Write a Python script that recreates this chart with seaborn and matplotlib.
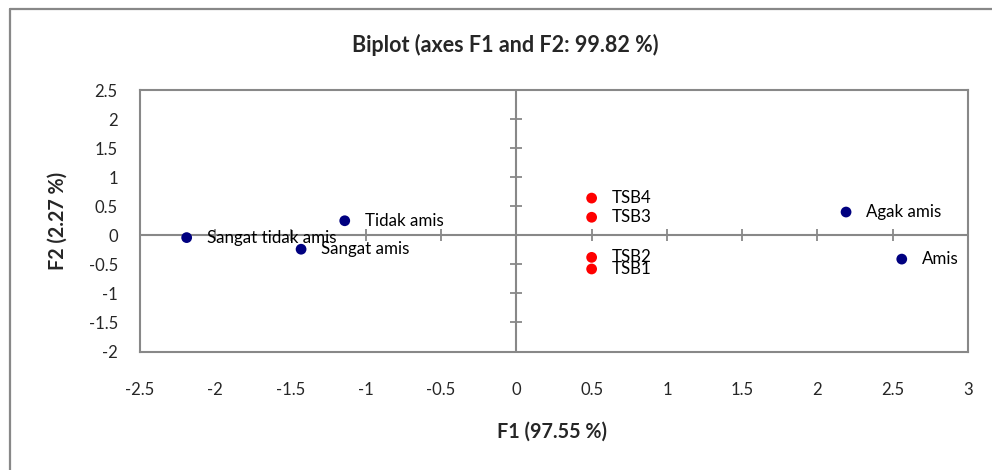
import matplotlib
matplotlib.use("Agg")
import matplotlib.pyplot as plt
from matplotlib.lines import Line2D
import seaborn as sns
import pandas as pd

# ---- data ----
var_labels = ["Sangat tidak amis", "Tidak amis", "Agak amis", "Amis", "Sangat amis"]
var_f1 = [-2.19, -1.14, 2.19, 2.56, -1.43]
var_f2 = [-0.04, 0.25, 0.40, -0.41, -0.24]

obs_labels = ["TSB1", "TSB2", "TSB3", "TSB4"]
obs_f1 = [0.50, 0.50, 0.50, 0.50]
obs_f2 = [-0.58, -0.38, 0.31, 0.64]

x_ticks = [-2.5, -2, -1.5, -1, -0.5, 0, 0.5, 1, 1.5, 2, 2.5, 3]
y_ticks = [-2, -1.5, -1, -0.5, 0, 0.5, 1, 1.5, 2, 2.5]

title = "Biplot (axes F1 and F2: 99.82 %)"
x_label = "F1 (97.55 %)"
y_label = "F2 (2.27 %)"

df = pd.DataFrame({
    "label": var_labels + obs_labels,
    "F1": var_f1 + obs_f1,
    "F2": var_f2 + obs_f2,
    "kind": ["var"] * len(var_labels) + ["obs"] * len(obs_labels),
})

sns.set_theme(style="white")
plt.rcParams["font.family"] = ["Lato", "DejaVu Sans"]

W, H = 992, 470
fig = plt.figure(figsize=(W / 100, H / 100), dpi=100)
ax = fig.add_axes([140 / W, 1 - 351.5 / H, (968 - 140) / W, (351.5 - 90) / H])

grey = "#888888"

sns.scatterplot(data=df, x="F1", y="F2", hue="kind",
                palette={"var": "#000080", "obs": "#ff0000"},
                s=60, edgecolor="none", legend=False, zorder=4, ax=ax)

for _, r in df.iterrows():
    ax.annotate(r["label"], (r["F1"], r["F2"]), xytext=(14.5, 0),
                textcoords="offset points", ha="left", va="center",
                fontsize=12.2, color="black", zorder=5)

ax.set_xlim(x_ticks[0], x_ticks[-1])
ax.set_ylim(y_ticks[0], y_ticks[-1])
ax.set_xticks(x_ticks)
ax.set_yticks(y_ticks)
ax.set_xticklabels([f"{t:g}" for t in x_ticks])
ax.set_yticklabels([f"{t:g}" for t in y_ticks])
ax.tick_params(axis="x", length=0, pad=22, labelsize=12)
ax.tick_params(axis="y", length=0, pad=16, labelsize=12)
ax.set_xlabel("")
ax.set_ylabel("")

for sp in ax.spines.values():
    sp.set_visible(True)
    sp.set_color(grey)
    sp.set_linewidth(1.5)

# zero axes with crossing tick marks
ax.axhline(0, color=grey, lw=1.5, zorder=2)
ax.axvline(0, color=grey, lw=1.5, zorder=2)
ax.plot(x_ticks, [0] * len(x_ticks), ls="none", marker="|", ms=8.5,
        mew=1.3, color=grey, zorder=2, clip_on=False)
ax.plot([0] * len(y_ticks), y_ticks, ls="none", marker="_", ms=8.5,
        mew=1.3, color=grey, zorder=2, clip_on=False)

# titles
fig.text(505 / W, 1 - 45 / H, title, ha="center", va="center",
         fontsize=15.5, fontweight="bold")
fig.text(552 / W, 1 - 432 / H, x_label, ha="center", va="center",
         fontsize=14.2, fontweight="bold")
fig.text(58 / W, 1 - 221 / H, y_label, ha="center", va="center",
         rotation=90, fontsize=14.2, fontweight="bold")

# outer frame (chart area border)
fig.add_artist(Line2D([9.5 / W, 9.5 / W], [0, 1 - 8.5 / H],
                      transform=fig.transFigure, color=grey, lw=1.6))
fig.add_artist(Line2D([9.5 / W, 1], [1 - 8.5 / H, 1 - 8.5 / H],
                      transform=fig.transFigure, color=grey, lw=1.6))

fig.savefig("out.png", dpi=100, facecolor="white")
